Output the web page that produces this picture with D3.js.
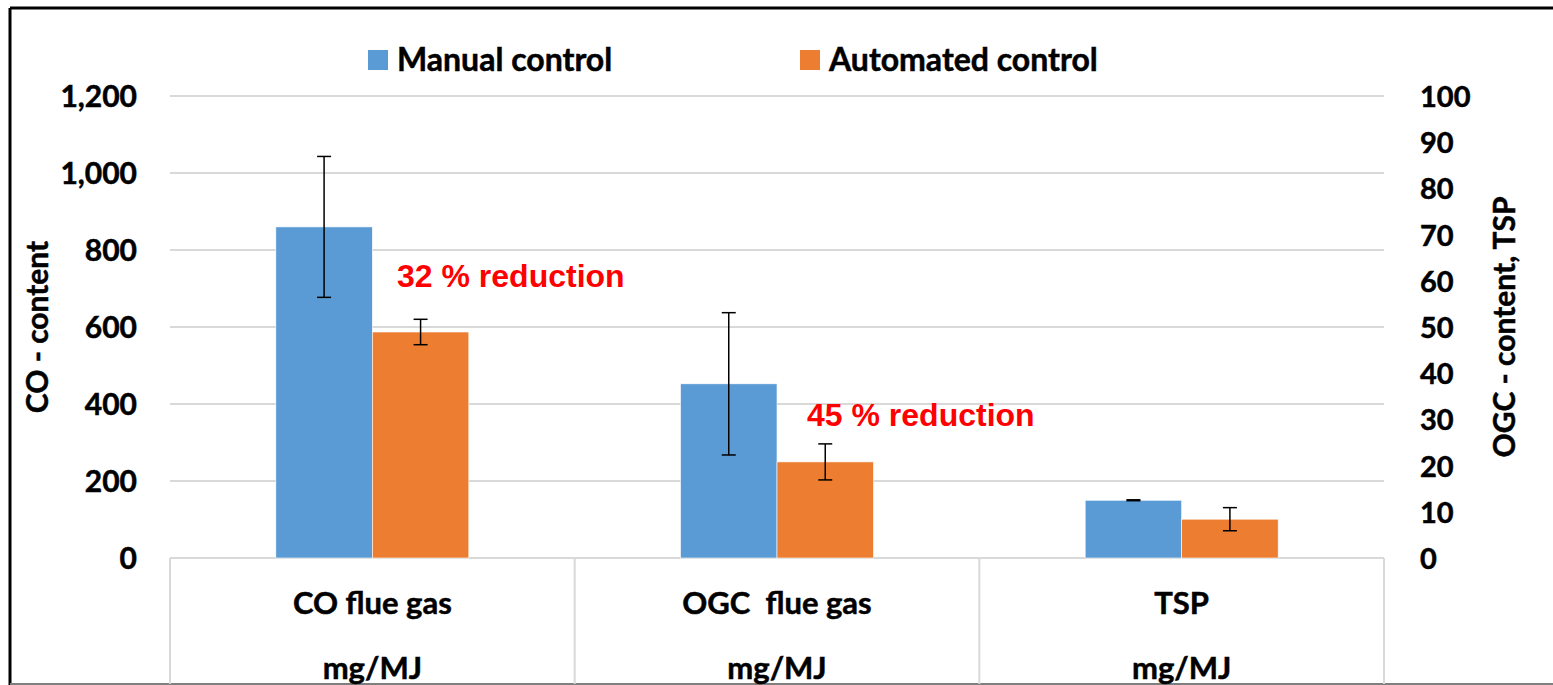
<!DOCTYPE html>
<html>
<head>
<meta charset="utf-8">
<script src="https://cdn.jsdelivr.net/npm/d3@7"></script>
<style>
  body { margin: 0; background: #fff; }
  svg text { font-family: Lato, "Open Sans", sans-serif; font-weight: bold; white-space: pre; }
  .heavy { stroke: #000; stroke-width: 0.5px; }
</style>
</head>
<body>
<svg width="1553" height="685"></svg>
<script>
// data
var categories = ["CO flue gas", "OGC  flue gas", "TSP"];
var units = ["mg/MJ", "mg/MJ", "mg/MJ"];
var axisOf = ["left", "right", "right"];   // CO on left axis, OGC and TSP on right
var series = ["Manual control", "Automated control"];
var manual = [860, 37.7, 12.5];
var manualErr = [183, 15.4, 0.1];
var automated = [587, 20.8, 8.4];
var automatedErr = [33, 3.9, 2.5];
var leftTicks = [0, 200, 400, 600, 800, 1000, 1200];
var rightTicks = [0, 10, 20, 30, 40, 50, 60, 70, 80, 90, 100];
var notes = ["32 % reduction", "45 % reduction"];

var svg = d3.select("svg"),
    width = +svg.attr("width"),
    height = +svg.attr("height");

var colors = d3.scaleOrdinal().domain(series).range(["#5b9bd5", "#ed7d31"]);

var x0 = d3.scaleBand().domain(categories).range([170, 1384]).padding(0);
var x1 = d3.scaleBand().domain(series).range([0, x0.bandwidth()])
    .paddingInner(0).paddingOuter(1.097);
var yL = d3.scaleLinear().domain([0, 1200]).range([558, 96]);
var yR = d3.scaleLinear().domain([0, 100]).range([558, 96]);

// outer frame
svg.append("line").attr("x1", 10).attr("x2", 10).attr("y1", 8).attr("y2", height)
    .attr("stroke", "#000").attr("stroke-width", 3);
svg.append("line").attr("x1", 10).attr("x2", width).attr("y1", 8).attr("y2", 8)
    .attr("stroke", "#000").attr("stroke-width", 3);
svg.append("line").attr("x1", 10).attr("x2", width).attr("y1", 684).attr("y2", 684)
    .attr("stroke", "#7f7f7f").attr("stroke-width", 2);

// gridlines
svg.append("g").selectAll("line").data(leftTicks.filter(d => d > 0)).enter()
    .append("line")
    .attr("x1", 170).attr("x2", 1384)
    .attr("y1", d => yL(d)).attr("y2", d => yL(d))
    .attr("stroke", "#d9d9d9").attr("stroke-width", 2);

// left axis labels
var axL = svg.append("g").attr("transform", "translate(137,0)")
    .call(d3.axisLeft(yL).tickValues(leftTicks).tickFormat(d3.format(",")).tickSize(0).tickPadding(0));
axL.select(".domain").remove();
axL.selectAll("text").attr("font-size", 30).attr("fill", "#000").attr("dy", "0.36em").attr("class", "heavy");

// right axis labels
var axR = svg.append("g").attr("transform", "translate(1420,0)")
    .call(d3.axisRight(yR).tickValues(rightTicks).tickSize(0).tickPadding(0));
axR.select(".domain").remove();
axR.selectAll("text").attr("font-size", 29).attr("fill", "#000").attr("dy", "0.36em").attr("class", "heavy");

// axis titles
svg.append("text").attr("transform", "translate(48,327) rotate(-90)").attr("class", "heavy")
    .attr("text-anchor", "middle").attr("font-size", 30).text("CO - content");
svg.append("text").attr("transform", "translate(1515,327) rotate(-90)").attr("class", "heavy")
    .attr("text-anchor", "middle").attr("font-size", 30).text("OGC - content, TSP");

// category box
var catG = svg.append("g");
catG.append("line").attr("x1", 170).attr("x2", 1384).attr("y1", 558).attr("y2", 558)
    .attr("stroke", "#d9d9d9").attr("stroke-width", 2);
var edges = categories.map(c => x0(c)).concat([x0.range()[1]]);
catG.selectAll(".div").data(edges).enter().append("line")
    .attr("x1", d => d).attr("x2", d => d).attr("y1", 558).attr("y2", 684)
    .attr("stroke", "#d9d9d9").attr("stroke-width", 2);
catG.selectAll(".cat").data(categories).enter().append("text").attr("class", "heavy")
    .attr("x", d => x0(d) + x0.bandwidth() / 2).attr("y", 614)
    .attr("text-anchor", "middle").attr("font-size", 31).text(d => d);
catG.selectAll(".unit").data(units).enter().append("text").attr("class", "heavy")
    .attr("x", (d, i) => x0(categories[i]) + x0.bandwidth() / 2).attr("y", 679)
    .attr("text-anchor", "middle").attr("font-size", 31).text(d => d);

// bars
var rows = [];
categories.forEach(function (c, i) {
    var y = axisOf[i] == "left" ? yL : yR;
    rows.push({cat: c, s: series[0], v: manual[i], e: manualErr[i], y: y});
    rows.push({cat: c, s: series[1], v: automated[i], e: automatedErr[i], y: y});
});
svg.append("g").selectAll("rect").data(rows).enter().append("rect")
    .attr("x", d => x0(d.cat) + x1(d.s))
    .attr("width", x1.bandwidth())
    .attr("y", d => d.y(d.v))
    .attr("height", d => d.y(0) - d.y(d.v))
    .attr("fill", d => colors(d.s))
    .attr("stroke", "#fff").attr("stroke-width", 0.6);

// error bars
var eb = svg.append("g").selectAll("g").data(rows).enter().append("g")
    .attr("stroke", "#000").attr("stroke-width", 1.5);
eb.append("line")
    .attr("x1", d => x0(d.cat) + x1(d.s) + x1.bandwidth() / 2)
    .attr("x2", d => x0(d.cat) + x1(d.s) + x1.bandwidth() / 2)
    .attr("y1", d => d.y(d.v + d.e)).attr("y2", d => d.y(d.v - d.e));
[1, -1].forEach(function (sg) {
    eb.append("line")
        .attr("x1", d => x0(d.cat) + x1(d.s) + x1.bandwidth() / 2 - 7)
        .attr("x2", d => x0(d.cat) + x1(d.s) + x1.bandwidth() / 2 + 7)
        .attr("y1", d => d.y(d.v + sg * d.e)).attr("y2", d => d.y(d.v + sg * d.e));
});

// reduction notes
svg.append("text").attr("x", 397).attr("y", 287)
    .style("font-family", "'Liberation Sans', Arial, sans-serif")
    .attr("font-size", 32).attr("fill", "#ff0000").text(notes[0]);
svg.append("text").attr("x", 807).attr("y", 426)
    .style("font-family", "'Liberation Sans', Arial, sans-serif")
    .attr("font-size", 32).attr("fill", "#ff0000").text(notes[1]);

// legend
var legX = [368, 800];
var leg = svg.append("g").selectAll("g").data(series).enter().append("g")
    .attr("transform", (d, i) => "translate(" + legX[i] + ",50)");
leg.append("rect").attr("width", 20).attr("height", 20).attr("fill", d => colors(d));
leg.append("text").attr("x", 29).attr("y", 21).attr("font-size", 32).attr("class", "heavy").text(d => d);
</script>
</body>
</html>
